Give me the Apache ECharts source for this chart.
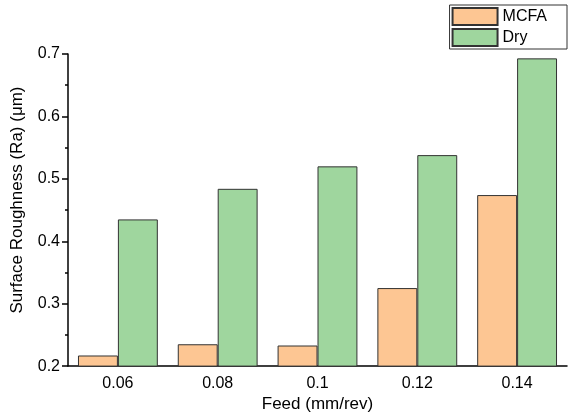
<!DOCTYPE html>
<html>
<head>
<meta charset="utf-8">
<script src="https://cdn.jsdelivr.net/npm/echarts@6/dist/echarts.min.js"></script>
<style>
  html, body { margin: 0; padding: 0; background: #fff; }
  #chart { width: 568px; height: 418px; }
</style>
</head>
<body>
<div id="chart"></div>
<script>
const categories = ['0.06', '0.08', '0.1', '0.12', '0.14']; // feed
const mcfa = [0.217, 0.235, 0.233, 0.325, 0.474];
const dry = [0.435, 0.484, 0.520, 0.538, 0.693];
const color = ['#FDC693', '#9FD69E'];

const font = 'Liberation Sans, Arial, sans-serif';

const myChart = echarts.init(document.getElementById('chart'));

const option = {
  color,
  animation: false,
  textStyle: { fontFamily: font },
  grid: { left: 68, right: 1, top: 54, bottom: 49 },
  legend: {
    orient: 'vertical',
    right: 1,
    top: 5,
    icon: 'rect',
    itemWidth: 45,
    itemHeight: 17,
    itemGap: 2,
    padding: [2, 20, 2, 2],
    borderColor: '#333',
    borderWidth: 1,
    textStyle: { fontSize: 16, color: '#000', fontFamily: font },
    data: ['MCFA', 'Dry'],
  },
  xAxis: [
    {
      type: 'category',
      data: categories,
      name: 'Feed (mm/rev)',
      nameLocation: 'middle',
      nameGap: 29,
      nameTextStyle: { fontSize: 17, color: '#000', fontFamily: font },
      axisLine: { lineStyle: { color: '#000', width: 1.5 } },
      axisTick: { alignWithLabel: true, length: 6, lineStyle: { color: '#000', width: 1.5 } },
      axisLabel: { fontSize: 16, color: '#000', margin: 9, fontFamily: font },
    },
    {
      // 次刻度（类目边界）
      type: 'category',
      data: categories,
      position: 'bottom',
      axisLine: { show: false },
      axisTick: { length: 3, lineStyle: { color: '#000', width: 1.5 } },
      axisLabel: { show: false },
    },
  ],
  yAxis: {
    type: 'value',
    min: 0.2,
    max: 0.7,
    interval: 0.1,
    name: 'Surface Roughness (Ra) (μm)',
    nameLocation: 'middle',
    nameGap: 42,
    nameTextStyle: { fontSize: 17, color: '#000', fontFamily: font, padding: [0, 0, 0, 20] },
    axisLine: { show: true, lineStyle: { color: '#000', width: 1.5 } },
    axisTick: { show: true, length: 6, lineStyle: { color: '#000', width: 1.5 } },
    minorTick: { show: true, splitNumber: 2, length: 3, lineStyle: { color: '#000', width: 1.5 } },
    splitLine: { show: false },
    axisLabel: { fontSize: 16, color: '#000', margin: 8, fontFamily: font },
  },
  series: [
    {
      name: 'MCFA',
      type: 'bar',
      data: mcfa,
      barWidth: '40%',
      barGap: '0%',
      itemStyle: { color: color[0], borderColor: '#333', borderWidth: 1 },
    },
    {
      name: 'Dry',
      type: 'bar',
      data: dry,
      barWidth: '40%',
      barGap: '0%',
      itemStyle: { color: color[1], borderColor: '#333', borderWidth: 1 },
    },
  ],
};

myChart.setOption(option);
</script>
</body>
</html>
